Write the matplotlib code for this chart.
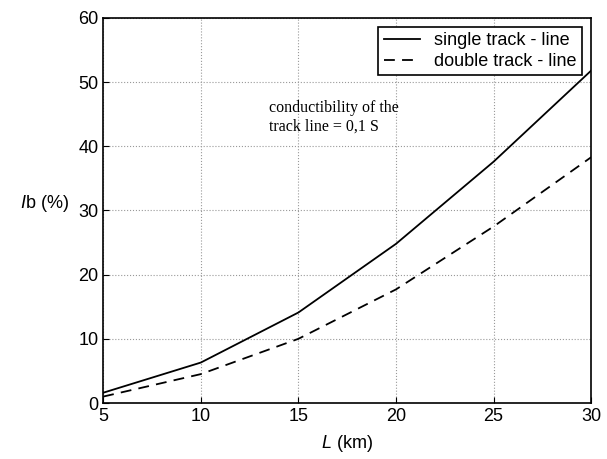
import numpy as np
import matplotlib.pyplot as plt

plt.rcParams['font.family'] = 'Liberation Sans'
plt.rcParams['mathtext.fontset'] = 'custom'
plt.rcParams['mathtext.it'] = 'Liberation Sans:italic'
plt.rcParams['mathtext.rm'] = 'Liberation Serif'

# line length (km) and current share (%)
L = [5, 10, 15, 20, 25, 30]
single = [1.6, 6.3, 14.1, 24.8, 37.6, 51.8]
double = [1.0, 4.5, 10.0, 17.7, 27.5, 38.3]

fig = plt.figure(figsize=(6.07, 4.59), dpi=100)
ax = fig.add_axes([0.170, 0.122, 0.804, 0.839])

ax.plot(L, single, 'k-', lw=1.3, label='single track - line')
ax.plot(L, double, 'k--', lw=1.3, dashes=(6, 4), label='double track - line')

ax.set_xlim(5, 30)
ax.set_ylim(0, 60)
ax.set_xticks([5, 10, 15, 20, 25, 30])
ax.set_yticks([0, 10, 20, 30, 40, 50, 60])
ax.tick_params(labelsize=13, direction='in', length=4)
ax.grid(True, linestyle=':', color='#999999', lw=0.8)
for s in ax.spines.values():
    s.set_linewidth(1.2)

ax.set_xlabel(r'$L$ (km)', fontsize=13, labelpad=6)
ax.set_ylabel(r'$I$b (%)', fontsize=13, rotation=0)
ax.yaxis.set_label_coords(-0.12, 0.49)

ax.text(13.5, 44.5, 'conductibility of the\ntrack line = 0,1 S', fontsize=11.5,
        family='Liberation Serif', va='center', linespacing=1.15)

leg = ax.legend(loc='upper right', fontsize=13, fancybox=False, framealpha=1,
                edgecolor='black', handlelength=2.0, borderpad=0.3,
                labelspacing=0.2, borderaxespad=0.5)
leg.get_frame().set_linewidth(1.2)

fig.savefig('out.png', dpi=100)
